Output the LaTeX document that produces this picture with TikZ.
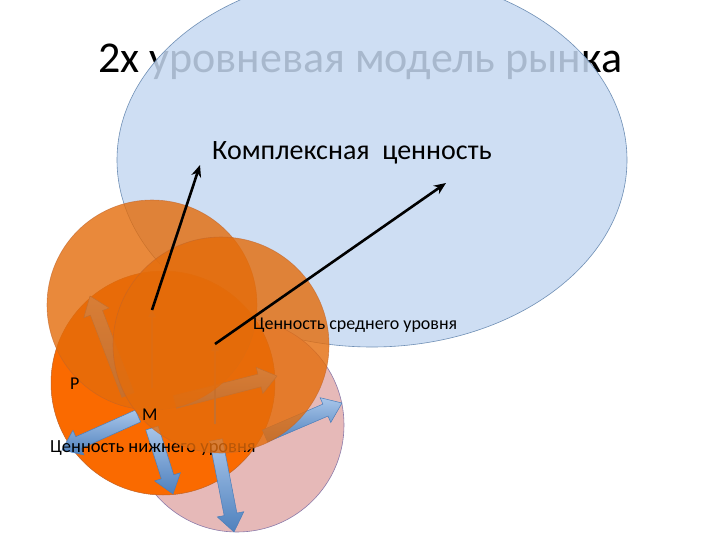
\documentclass[tikz,border=0pt]{standalone}
\usepackage{fontspec}
\setmainfont{Carlito}
\usetikzlibrary{arrows.meta,shadings}
\definecolor{ellfill}{HTML}{C6D9F1}
\definecolor{elledge}{HTML}{6F8FB5}
\definecolor{orgA}{HTML}{E46C0A}
\definecolor{orgedge}{HTML}{C0642A}
\definecolor{orgC}{HTML}{FA6A00}
\definecolor{pinkfill}{HTML}{E6B9B8}
\definecolor{pinkedge}{HTML}{8C7BAA}
\definecolor{blkA}{HTML}{A9C6EA}
\definecolor{blkB}{HTML}{4F81BD}
\definecolor{blkedge}{HTML}{4A7EBB}
\newcommand{\blkarrow}[4]{%
  \pgfmathsetmacro{\baDX}{#3-(#1)}%
  \pgfmathsetmacro{\baDY}{#2-(#4)}%
  \pgfmathsetmacro{\baANG}{atan2(\baDY,\baDX)}%
  \pgfmathsetmacro{\baLEN}{veclen(\baDX,\baDY)}%
  \pgfmathsetmacro{\baNECK}{\baLEN-18}%
  \begin{scope}[shift={(#1,#2)},rotate=\baANG]
    \shade[shading angle=\baANG, top color=blkA, bottom color=blkB, draw=blkedge, line width=0.5pt]
      (0,-6.5) -- (\baNECK,-6.5) -- (\baNECK,-13.5) -- (\baLEN,0) -- (\baNECK,13.5) -- (\baNECK,6.5) -- (0,6.5) -- cycle;
  \end{scope}}
\tikzset{
  upcircle/.style={fill=orgA, fill opacity=0.8, draw=orgedge, draw opacity=0.6, line width=0.6pt},
  bluevert/.style={draw=blkB, line width=2pt, -{Triangle[length=7pt,width=7pt]}},
  blackarr/.style={draw=black, line width=2.6pt, -{Stealth[length=12pt,width=10pt]}},
  lbl/.style={anchor=base west, inner sep=0pt, text=black}
}
\begin{document}
\begin{tikzpicture}[x=1pt,y=-1pt]
\useasboundingbox (0,0) rectangle (720,540);
\clip (0,0) rectangle (720,540);
\fill[white] (0,0) rectangle (720,540);
% title
\node[lbl, font=\fontsize{44}{50}\selectfont] (title) at (98,73) {2х уровневая модель рынка};
% big ellipse (complex value)
\path[fill=ellfill, fill opacity=0.85, draw=elledge, line width=0.6pt] (372,160) ellipse [x radius=255, y radius=187];
% lower level
\path[fill=pinkfill, draw=pinkedge, line width=0.6pt] (237,425) circle [radius=107];
\path[fill=orgC, draw=orgedge, line width=0.5pt] (163,383) circle [radius=112];
% block arrows
\blkarrow{128}{395}{90}{296}
\blkarrow{175}{402}{277}{376}
\blkarrow{138}{416}{62}{450}
\blkarrow{152}{428}{173}{494}
\blkarrow{216}{440}{234}{532}
\blkarrow{265}{436}{342}{403}
% vertical lines to middle level
\coordinate (m1) at (152,388);
\coordinate (v1) at (152,310);
\coordinate (m2) at (215,424);
\coordinate (v2) at (215,344);
\draw[bluevert] (m1) -- (v1);
\draw[bluevert] (m2) -- (v2);
\node[lbl, font=\fontsize{18.5}{21}\selectfont] (low) at (50,452) {Ценность нижнего уровня};
% middle level
\path[upcircle] (152,305) circle [radius=105];
\path[upcircle] (221,345) circle [radius=108];
% arrows to complex value
\coordinate (k1) at (200,165);
\coordinate (k2) at (446,183);
\draw[blackarr] (v1) -- (k1);
\draw[blackarr] (v2) -- (k2);
% labels
\node[lbl, font=\fontsize{28}{32}\selectfont] (cplx) at (212,160) {Комплексная\ \ ценность};
\node[lbl, font=\fontsize{18}{21}\selectfont] (mid) at (253,329) {Ценность среднего уровня};
\node[lbl, font=\fontsize{18}{21}\selectfont] (P) at (70,389) {Р};
\node[lbl, font=\fontsize{18}{21}\selectfont] (M) at (142,420) {М};
\end{tikzpicture}
\end{document}
